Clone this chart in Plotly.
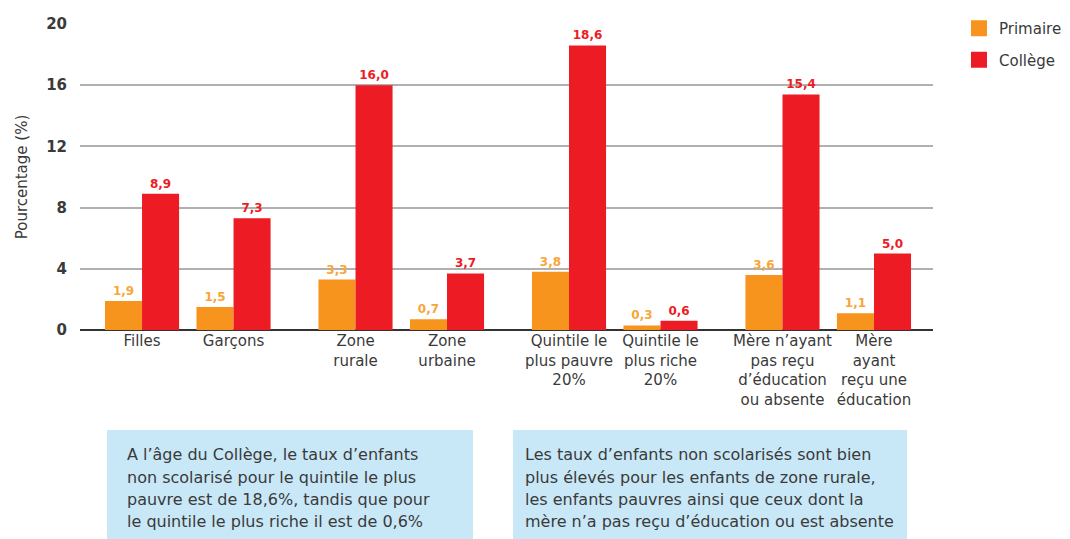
import numpy as np
import plotly.graph_objects as go

categories = [
    "Filles", "Garçons", "Zone<br>rurale", "Zone<br>urbaine",
    "Quintile le<br>plus pauvre<br>20%", "Quintile le<br>plus riche<br>20%",
    "Mère n’ayant<br>pas reçu<br>d’éducation<br>ou absente",
    "Mère<br>ayant<br>reçu une<br>éducation",
]
series_names = ["Primaire", "Collège"]
primaire = [1.9, 1.5, 3.3, 0.7, 3.8, 0.3, 3.6, 1.1]
college = [8.9, 7.3, 16.0, 3.7, 18.6, 0.6, 15.4, 5.0]
y_ticks = [0, 4, 8, 12, 16, 20]

box1_lines = [
    "A l’âge du Collège, le taux d’enfants",
    "non scolarisé pour le quintile le plus",
    "pauvre est de 18,6%, tandis que pour",
    "le quintile le plus riche il est de 0,6%",
]
box2_lines = [
    "Les taux d’enfants non scolarisés sont bien",
    "plus élevés pour les enfants de zone rurale,",
    "les enfants pauvres ainsi que ceux dont la",
    "mère n’a pas reçu d’éducation ou est absente",
]

ORANGE = "#F7941D"
RED = "#ED1C24"
FONT = "DejaVu Sans, Liberation Sans, Arial, sans-serif"
TXT = "#3a3a3a"

idx = np.arange(len(categories))
pos = idx + (idx // 2) / 3.0


def fmt(v):
    return f"{v:.1f}".replace(".", ",")


fig = go.Figure()
for name, vals, col, tcol, grp in [(series_names[0], primaire, ORANGE, "#F8A53A", "a"),
                                   (series_names[1], college, RED, RED, "b")]:
    fig.add_trace(go.Bar(
        x=pos, y=vals, name=name, marker=dict(color=col, line=dict(width=0)),
        text=[fmt(v) for v in vals], textposition="outside",
        textfont=dict(color=tcol, size=12, family=FONT, weight="bold"),
        cliponaxis=False, legendgroup=grp, showlegend=False,
    ))
for name, col, grp in [(series_names[0], ORANGE, "a"), (series_names[1], RED, "b")]:
    fig.add_trace(go.Scatter(
        x=[None], y=[None], mode="markers", name=name, legendgroup=grp,
        marker=dict(symbol="square", size=16, color=col), showlegend=True,
    ))

# page body offset (browser default margin)
OFF = 8
W, H = 1070 - OFF, 539 - OFF
# screen pixel positions of the plot area in the reference
SL, SR, ST, SB = 80, 933, 24, 330
L, T = SL - OFF, ST - OFF
R = W - (SR - OFF)
B = H - (SB - OFF)
pw, ph = W - L - R, H - T - B


def px2x(px):
    return (px - SL) / pw


def py2y(py):
    return (SB - py) / ph


shapes = []
annotations = []
for (x0, x1, tx, lines) in [(107, 473, 125, box1_lines), (513, 907, 523, box2_lines)]:
    shapes.append(dict(type="rect", xref="paper", yref="paper",
                       x0=px2x(x0), x1=px2x(x1), y0=py2y(545), y1=py2y(430),
                       fillcolor="#C8E8F8", line=dict(width=0), layer="below"))
    for k, line in enumerate(lines):
        annotations.append(dict(xref="paper", yref="paper", x=px2x(tx), y=py2y(455 + k * 22),
                                xanchor="left", yanchor="middle", text=line, showarrow=False,
                                font=dict(size=16, color=TXT, family=FONT)))

fig.update_layout(
    width=W, height=H,
    margin=dict(l=L, r=R, t=T, b=B, autoexpand=False),
    paper_bgcolor="white", plot_bgcolor="white",
    barmode="group", bargap=0.19, bargroupgap=0,
    font=dict(family=FONT, color=TXT),
    showlegend=True,
    legend=dict(xref="container", yref="container",
                x=(959 - OFF) / W, y=1 - (12 - OFF) / H, xanchor="left", yanchor="top",
                font=dict(size=15, color=TXT, family=FONT),
                tracegroupgap=9, bgcolor="rgba(0,0,0,0)", itemsizing="trace"),
    xaxis=dict(range=[-0.678, 8.645], tickmode="array", tickvals=pos, ticktext=categories,
               showgrid=False, zeroline=False, showline=False, ticks="",
               tickfont=dict(size=15, color=TXT, family=FONT), fixedrange=True),
    yaxis=dict(range=[0, 20], tickmode="array", tickvals=y_ticks,
               showgrid=True, gridcolor="#b0b0b0", gridwidth=1.5,
               zeroline=True, zerolinecolor="#333333", zerolinewidth=2,
               showline=False, ticks="", ticklabelstandoff=12,
               tickfont=dict(size=15, color=TXT, family=FONT, weight="bold"),
               title=dict(text="Pourcentage (%)", standoff=14,
                          font=dict(size=15, color=TXT, family=FONT))),
    shapes=shapes,
    annotations=annotations,
)

fig.write_html("out.html")
